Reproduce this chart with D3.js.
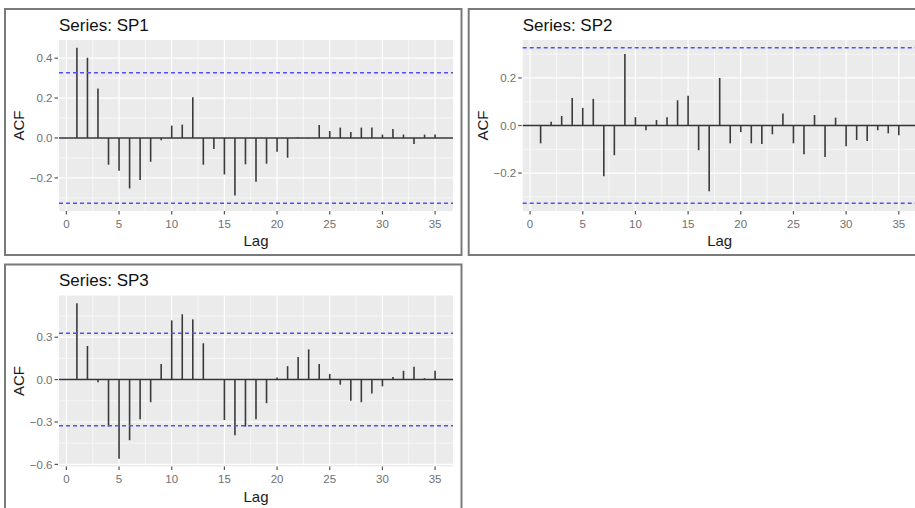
<!DOCTYPE html>
<html>
<head>
<meta charset="utf-8">
<script src="https://cdn.jsdelivr.net/npm/d3@7"></script>
<style>
  body { margin: 0; background: #fff; }
  svg { display: block; font-family: "Liberation Sans", Arial, sans-serif; }
</style>
</head>
<body>
<svg id="chart"></svg>
<script>
// ACF values for lags 1..35
var lags = d3.range(1, 36);

var sp1 = [0.452, 0.402, 0.248, -0.134, -0.164, -0.253, -0.211, -0.119, -0.012, 0.062,
    0.067, 0.204, -0.134, -0.055, -0.183, -0.288, -0.132, -0.219, -0.129, -0.069,
    -0.099, 0.003, -0.002, 0.065, 0.035, 0.052, 0.030, 0.052, 0.052, 0.017,
    0.045, 0.017, -0.030, 0.017, 0.017];

var sp2 = [-0.075, 0.016, 0.040, 0.116, 0.074, 0.112, -0.213, -0.125, 0.301, 0.035,
    -0.020, 0.023, 0.035, 0.106, 0.125, -0.104, -0.277, 0.200, -0.075, -0.028,
    -0.075, -0.078, -0.037, 0.050, -0.075, -0.121, 0.044, -0.132, 0.033, -0.087,
    -0.061, -0.065, -0.020, -0.033, -0.041];

var sp3 = [0.540, 0.238, -0.019, -0.333, -0.560, -0.429, -0.281, -0.160, 0.110, 0.419,
    0.462, 0.426, 0.257, 0.002, -0.286, -0.393, -0.333, -0.281, -0.167, 0.014,
    0.095, 0.160, 0.214, 0.110, 0.040, -0.036, -0.150, -0.160, -0.098, -0.048,
    0.019, 0.062, 0.090, 0.010, 0.062];

var ci = 0.327;

var xTicks = [0, 5, 10, 15, 20, 25, 30, 35];
var yTicks1 = [-0.2, 0.0, 0.2, 0.4];
var yTicks2 = [-0.2, 0.0, 0.2];
var yTicks3 = [-0.6, -0.3, 0.0, 0.3];

var titles = ["Series: SP1", "Series: SP2", "Series: SP3"];

var W = 915, H = 508;

var svg = d3.select("#chart")
    .attr("width", W)
    .attr("height", H);

var panelW = 456.5, panelH = 246;
var plot = {left: 54, top: 31, width: 394, height: 171};

function draw_panel(px, py, title, values, yTicks) {
    var g = svg.append("g")
        .attr("transform", "translate(" + px + "," + py + ")");

    g.append("rect")
        .attr("width", panelW)
        .attr("height", panelH)
        .attr("fill", "#fff")
        .attr("stroke", "#7a7a7a")
        .attr("stroke-width", 2);

    // ggplot style 5% expansion
    var xmin = d3.min(lags), xmax = d3.max(lags);
    var xpad = (xmax - xmin) * 0.05;
    var x = d3.scaleLinear()
        .domain([xmin - xpad, xmax + xpad])
        .range([0, plot.width]);

    var ylo = Math.min(d3.min(values), -ci), yhi = Math.max(d3.max(values), ci);
    var ypad = (yhi - ylo) * 0.05;
    var y = d3.scaleLinear()
        .domain([ylo - ypad, yhi + ypad])
        .range([plot.height, 0]);

    var p = g.append("g")
        .attr("transform", "translate(" + plot.left + "," + plot.top + ")");

    p.append("rect")
        .attr("width", plot.width)
        .attr("height", plot.height)
        .attr("fill", "#ebebeb");

    // minor grid
    var xStep = xTicks[1] - xTicks[0];
    var xMinor = xTicks.map(function(d) { return d + xStep / 2; })
        .concat([xTicks[0] - xStep / 2])
        .filter(function(d) { return d > x.domain()[0] && d < x.domain()[1]; });
    var yStep = yTicks[1] - yTicks[0];
    var yMinor = yTicks.map(function(d) { return d + yStep / 2; })
        .concat([yTicks[0] - yStep / 2])
        .filter(function(d) { return d > y.domain()[0] && d < y.domain()[1]; });

    p.selectAll(".xminor").data(xMinor).enter().append("line")
        .attr("x1", function(d) { return x(d); })
        .attr("x2", function(d) { return x(d); })
        .attr("y1", 0).attr("y2", plot.height)
        .attr("stroke", "#fff").attr("stroke-width", 0.6);

    p.selectAll(".yminor").data(yMinor).enter().append("line")
        .attr("y1", function(d) { return y(d); })
        .attr("y2", function(d) { return y(d); })
        .attr("x1", 0).attr("x2", plot.width)
        .attr("stroke", "#fff").attr("stroke-width", 0.6);

    p.selectAll(".xmajor").data(xTicks).enter().append("line")
        .attr("x1", function(d) { return x(d); })
        .attr("x2", function(d) { return x(d); })
        .attr("y1", 0).attr("y2", plot.height)
        .attr("stroke", "#fff").attr("stroke-width", 1.2);

    p.selectAll(".ymajor").data(yTicks).enter().append("line")
        .attr("y1", function(d) { return y(d); })
        .attr("y2", function(d) { return y(d); })
        .attr("x1", 0).attr("x2", plot.width)
        .attr("stroke", "#fff").attr("stroke-width", 1.2);

    // zero line
    p.append("line")
        .attr("x1", 0).attr("x2", plot.width)
        .attr("y1", y(0)).attr("y2", y(0))
        .attr("stroke", "#333").attr("stroke-width", 1.5);

    // acf segments
    p.selectAll(".bar").data(values).enter().append("line")
        .attr("x1", function(d, i) { return x(lags[i]); })
        .attr("x2", function(d, i) { return x(lags[i]); })
        .attr("y1", y(0))
        .attr("y2", function(d) { return y(d); })
        .attr("stroke", "#3a3a3a").attr("stroke-width", 1.6);

    // confidence bounds
    p.selectAll(".ci").data([ci, -ci]).enter().append("line")
        .attr("x1", 0).attr("x2", plot.width)
        .attr("y1", function(d) { return y(d); })
        .attr("y2", function(d) { return y(d); })
        .attr("stroke", "#5050f5")
        .attr("stroke-width", 1.5)
        .attr("stroke-dasharray", "4,3");

    // axes by hand (ggplot look)
    var xa = p.append("g").attr("transform", "translate(0," + plot.height + ")");
    xa.selectAll("line").data(xTicks).enter().append("line")
        .attr("x1", function(d) { return x(d); })
        .attr("x2", function(d) { return x(d); })
        .attr("y1", 0).attr("y2", 3.5)
        .attr("stroke", "#555").attr("stroke-width", 1.2);
    xa.selectAll("text").data(xTicks).enter().append("text")
        .attr("x", function(d) { return x(d); })
        .attr("y", 16.5)
        .attr("text-anchor", "middle")
        .attr("fill", "#707070")
        .style("font-size", "11.5px")
        .text(function(d) { return d; });

    var ya = p.append("g");
    ya.selectAll("line").data(yTicks).enter().append("line")
        .attr("x1", -4.5).attr("x2", -1)
        .attr("y1", function(d) { return y(d); })
        .attr("y2", function(d) { return y(d); })
        .attr("stroke", "#555").attr("stroke-width", 1.2);
    ya.selectAll("text").data(yTicks).enter().append("text")
        .attr("x", -6.5)
        .attr("y", function(d) { return y(d); })
        .attr("dy", "0.36em")
        .attr("text-anchor", "end")
        .attr("fill", "#707070")
        .style("font-size", "11.5px")
        .text(function(d) { return d3.format(".1f")(d); });

    p.append("text")
        .attr("x", plot.width / 2)
        .attr("y", plot.height + 35)
        .attr("text-anchor", "middle")
        .attr("fill", "#1a1a1a")
        .style("font-size", "15px")
        .text("Lag");

    p.append("text")
        .attr("transform", "translate(" + (-35) + "," + (plot.height / 2) + ") rotate(-90)")
        .attr("text-anchor", "middle")
        .attr("fill", "#1a1a1a")
        .style("font-size", "15px")
        .text("ACF");

    g.append("text")
        .attr("x", plot.left)
        .attr("y", 21.5)
        .attr("fill", "#111")
        .style("font-size", "17px")
        .text(title);
}

draw_panel(5, 9, titles[0], sp1, yTicks1);
draw_panel(468.7, 9, titles[1], sp2, yTicks2);
draw_panel(5, 264.5, titles[2], sp3, yTicks3);
</script>
</body>
</html>
